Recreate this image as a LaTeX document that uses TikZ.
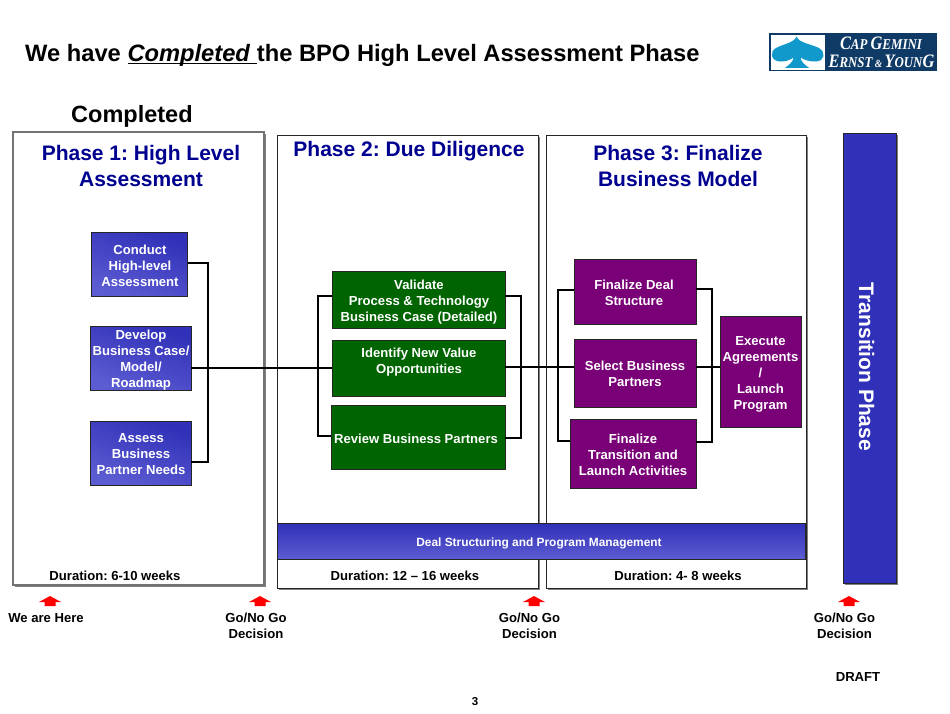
\documentclass[tikz,border=0pt]{standalone}
\usepackage{fontspec}
\setmainfont{Liberation Sans}
\newfontfamily\logofont{Liberation Serif}
\usetikzlibrary{shadows}
\definecolor{navyt}{HTML}{000090}
\definecolor{bluea}{HTML}{3030B8}
\definecolor{blueb}{HTML}{5C5CD2}
\definecolor{greenb}{HTML}{006400}
\definecolor{purpb}{HTML}{7A0078}
\definecolor{logob}{HTML}{0F3A66}
\definecolor{spade}{HTML}{1199CC}
\newcommand{\tightul}[1]{\setbox0\hbox{#1}\rlap{\rule[-2.4pt]{\wd0}{1.5pt}}\box0 }
\tikzset{
  x=1pt,y=-1pt,
  txt/.style={font=\fontsize{13.1}{16}\selectfont\bfseries,align=center,inner sep=0pt,text=black},
  wtxt/.style={txt,text=white},
  phasetitle/.style={font=\fontsize{21}{26}\selectfont\bfseries,align=center,inner sep=0pt,text=navyt},
  phasebox/.style={draw=black!85,line width=0.9pt,fill=white,inner sep=0pt,outer sep=0pt,
     drop shadow={shadow xshift=1.6pt,shadow yshift=-1.6pt,fill=black!50,opacity=1}},
  taskbox/.style={draw=black!85,line width=0.8pt,inner sep=0pt,outer sep=0pt},
  bluebox/.style={taskbox,shading=axis,left color=bluea,right color=blueb,shading angle=-20},
  greenbox/.style={taskbox,fill=greenb},
  purplebox/.style={taskbox,fill=purpb},
  link/.style={draw=black,line width=2.5pt,line join=miter},
  redmark/.style={fill=red,draw=none},
}
\begin{document}
\frenchspacing
\begin{tikzpicture}
\useasboundingbox (0,0) rectangle (950,713);
\fill[white] (0,0) rectangle (950,713);

% title
\node[anchor=base west,inner sep=0pt,font=\fontsize{23.7}{28}\selectfont\bfseries] (title) at (25,61.7)
  {We have \tightul{\textit{Completed\ }}the BPO High Level Assessment Phase};
\node[anchor=base west,inner sep=0pt,font=\fontsize{23.5}{28}\selectfont\bfseries] (done) at (71,122.7) {Completed};

% logo
\node[fill=logob,minimum width=168pt,minimum height=38pt,inner sep=0pt] (logo) at (853,52) {};
\fill[white] (771,35) rectangle (824.5,69.5);
\fill[spade] (796.5,36.5) .. controls (794,43) and (783,44) .. (776,48)
  .. controls (769,52) and (771,61) .. (780,61.5)
  .. controls (785,62) and (790,60) .. (793.5,57.5)
  .. controls (793,62) and (789,65) .. (785,67.8) -- (809,67.8)
  .. controls (805,65) and (801,62) .. (800.5,57.5)
  .. controls (804,60) and (811,62) .. (816,61.5)
  .. controls (825,61) and (826,52) .. (819,48)
  .. controls (811,44) and (799,43) .. (796.5,36.5) -- cycle;
\node[text=white,inner sep=0pt,font=\logofont\bfseries\itshape] (logoa) at (881,43.5)
  {\scalebox{0.86}[1]{\fontsize{19}{20}\selectfont C\fontsize{15}{20}\selectfont AP \fontsize{19}{20}\selectfont G\fontsize{15}{20}\selectfont EMINI}};
\node[text=white,inner sep=0pt,font=\logofont\bfseries\itshape] (logob) at (881.5,61.5)
  {\scalebox{0.86}[1]{\fontsize{19}{20}\selectfont E\fontsize{15}{20}\selectfont RNST\fontsize{11}{20}\selectfont\ \&\ \fontsize{19}{20}\selectfont Y\fontsize{15}{20}\selectfont OUN\fontsize{19}{20}\selectfont G}};

% phase panels
\node[phasebox,draw=black!55,line width=1.2pt,minimum width=251pt,minimum height=453pt] (p1) at (138.5,358.5) {};
\node[phasebox,minimum width=261pt,minimum height=453pt] (p2) at (407.5,361.5) {};
\node[phasebox,minimum width=260pt,minimum height=453pt] (p3) at (676,361.5) {};
\node[phasebox,fill=bluea,minimum width=53pt,minimum height=450pt] (tp) at (869.5,358) {};
\node[rotate=-90,text=white,inner sep=0pt,font=\fontsize{21}{25}\selectfont\bfseries] (tpt) at (866.5,367) {Transition Phase};

\node[phasetitle] (p1t) at (141,166) {Phase 1: High Level\\Assessment};
\node[phasetitle] (p2t) at (409,151) {Phase 2: Due Diligence};
\node[phasetitle] (p3t) at (678,166) {Phase 3: Finalize\\Business Model};

% deal bar
\node[bluebox,minimum width=528pt,minimum height=36pt,shading angle=0] (deal) at (541,541) {};
\node[wtxt,font=\fontsize{11.9}{14}\selectfont\bfseries] (dealt) at (539,543) {Deal Structuring and Program Management};

% task boxes
\node[bluebox,minimum width=96pt,minimum height=64pt] (a1) at (139.5,264.5) {};
\node[bluebox,minimum width=101pt,minimum height=64pt] (a2) at (140.5,358) {};
\node[bluebox,minimum width=101pt,minimum height=64pt] (a3) at (140.5,453) {};
\node[greenbox,minimum width=173pt,minimum height=57pt] (b1) at (418.5,299.5) {};
\node[greenbox,minimum width=173pt,minimum height=56pt] (b2) at (418.5,368) {};
\node[greenbox,minimum width=174pt,minimum height=64pt] (b3) at (418,437) {};
\node[purplebox,minimum width=122pt,minimum height=65pt] (c1) at (635,291.5) {};
\node[purplebox,minimum width=122pt,minimum height=68pt] (c2) at (635,373) {};
\node[purplebox,minimum width=126pt,minimum height=69pt] (c3) at (633,453.5) {};
\node[purplebox,minimum width=81pt,minimum height=111pt] (d1) at (760.5,371.5) {};

% connectors
\coordinate (ja) at (208,263);
\coordinate (jb) at (318,296);
\coordinate (jc) at (521,296);
\coordinate (jd) at (558,290);
\coordinate (je) at (712,289);
\draw[link] (a1.east |- ja) -- (ja) -- (208,462) -- (a3.east |- 0,462);
\draw[link] (a2.east |- 0,368) -- (b2.west |- 0,368);
\draw[link] (b1.west |- jb) -- (jb) -- (318,436) -- (b3.west |- 0,436);
\draw[link] (b1.east |- jc) -- (jc) -- (521,438) -- (b3.east |- 0,438);
\draw[link] (b2.east |- 0,367) -- (c2.west |- 0,367);
\draw[link] (c1.west |- jd) -- (jd) -- (558,441) -- (c3.west |- 0,441);
\draw[link] (c1.east |- je) -- (je) -- (712,442) -- (c3.east |- 0,442);
\draw[link] (c2.east |- 0,367) -- (d1.west |- 0,367);

% task labels
\node[wtxt] (a1t) at (140,266) {Conduct\\High-level\\Assessment};
\node[wtxt] (a2t) at (141,360.5) {Develop\\Business Case/\\Model/\\Roadmap};
\node[wtxt] (a3t) at (141,454) {Assess\\Business\\Partner Needs};
\node[wtxt] (b1t) at (419,302.5) {Validate\\Process \& Technology\\Business Case (Detailed)};
\node[wtxt] (b2t) at (419,362) {Identify New Value\\Opportunities};
\node[wtxt] (b3t) at (416,439) {Review Business Partners};
\node[wtxt] (c1t) at (634,293) {Finalize Deal\\Structure};
\node[wtxt] (c2t) at (635,374) {Select Business\\Partners};
\node[wtxt] (c3t) at (633,454.5) {Finalize\\Transition and\\Launch Activities};
\node[wtxt] (d1t) at (760.5,374.5) {Execute\\Agreements\\/\\Launch\\Program};

% durations
\node[txt] (dur1) at (115,575.5) {Duration: 6-10 weeks};
\node[txt] (dur2) at (405,575.5) {Duration: 12 – 16 weeks};
\node[txt] (dur3) at (678,575.5) {Duration: 4- 8 weeks};

% markers
\foreach \mx in {50,260,534,849}{
  \fill[redmark] (\mx,596) -- (\mx+11,602) -- (\mx+5.5,602) -- (\mx+5.5,606) -- (\mx-5.5,606) -- (\mx-5.5,602) -- (\mx-11,602) -- cycle;
}
\node[txt] (l1) at (46,618.5) {We are Here};
\node[txt] (l2) at (256,625.5) {Go/No Go\\Decision};
\node[txt] (l3) at (529.5,625.5) {Go/No Go\\Decision};
\node[txt] (l4) at (844.5,625.5) {Go/No Go\\Decision};
\node[txt] (draft) at (858,677) {DRAFT};
\node[txt,font=\fontsize{11.5}{14}\selectfont\bfseries] (pg) at (475,702) {3};
\end{tikzpicture}
\end{document}
